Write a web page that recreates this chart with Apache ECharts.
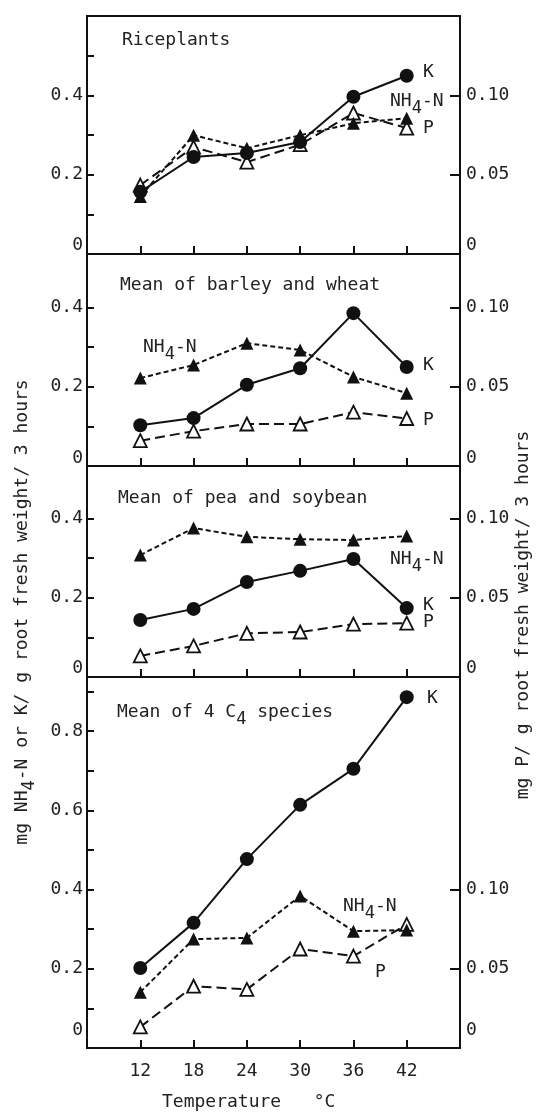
<!DOCTYPE html>
<html><head><meta charset="utf-8">
<script src="https://cdn.jsdelivr.net/npm/echarts@6/dist/echarts.min.js"></script>
<style>html,body{margin:0;padding:0;background:#fff}#c{width:537px;height:1112px}</style>
</head><body><div id="c"></div>
<script>
// ---------- data ----------
const temperatures = [12, 18, 24, 30, 36, 42];

const riceK   = [0.157, 0.245, 0.255, 0.283, 0.397, 0.450];
const riceNH4 = [0.145, 0.300, 0.267, 0.300, 0.330, 0.343];
const riceP   = [0.0435, 0.0675, 0.058, 0.069, 0.089, 0.0795];

const barleyK   = [0.103, 0.121, 0.205, 0.247, 0.386, 0.250];
const barleyNH4 = [0.222, 0.255, 0.310, 0.293, 0.225, 0.184];
const barleyP   = [0.016, 0.022, 0.0265, 0.0265, 0.034, 0.030];

const peaK   = [0.144, 0.172, 0.240, 0.268, 0.298, 0.174];
const peaNH4 = [0.308, 0.376, 0.354, 0.348, 0.346, 0.356];
const peaP   = [0.0133, 0.0196, 0.0276, 0.0284, 0.0334, 0.034];

const c4K   = [0.202, 0.316, 0.477, 0.614, 0.705, 0.886];
const c4NH4 = [0.141, 0.275, 0.278, 0.384, 0.295, 0.298];
const c4P   = [0.0133, 0.039, 0.037, 0.0625, 0.058, 0.078];

const leftTickValues  = [[0.1,0.2,0.3,0.4,0.5],[0.1,0.2,0.3,0.4],[0.1,0.2,0.3,0.4],[0.1,0.2,0.3,0.4,0.5,0.6,0.7,0.8,0.9]];
const leftLabelValues = [[0,0.2,0.4],[0,0.2,0.4],[0,0.2,0.4],[0,0.2,0.4,0.6,0.8]];
const rightTickValues  = [0.05, 0.10];
const rightLabelValues = [0, 0.05, 0.10];

const panelTitles = ['Riceplants', 'Mean of barley and wheat', 'Mean of pea and soybean', '{n|Mean of 4 C}{s|4}{n| species}'];
const leftTitle  = '{n|mg NH}{s|4}{n|-N or K/ g root fresh weight/ 3 hours}';
const rightTitle = 'mg P/ g root fresh weight/ 3 hours';
const xTitle = 'Temperature   °C';
const nh4Label = '{n|NH}{s|4}{n|-N}';

const panelData = [
  {K: riceK, NH4: riceNH4, P: riceP},
  {K: barleyK, NH4: barleyNH4, P: barleyP},
  {K: peaK, NH4: peaNH4, P: peaP},
  {K: c4K, NH4: c4NH4, P: c4P}
];

// ---------- layout ----------
const FONT = 'DejaVu Sans Mono';
const INK = '#111';
const TXT = '#222';
const PX_PER_UNIT = 396; // pixels per 1.0 on left axis
const gridTops = [16, 254, 466, 677];
const gridHeights = [238, 212, 211, 371];
const gridLeft = 87, gridRight = 77;
const zeroLift = [9, 8, 9, 18];
const titlePos = [[122, 40], [120, 285], [118, 498], [117, 712]];
const seriesLabels = [
  {K: [423, 72],  NH4: [390, 97],  P: [423, 128]},
  {K: [423, 365], NH4: [143, 343], P: [423, 420]},
  {K: [423, 605], NH4: [390, 555], P: [423, 622]},
  {K: [427, 698], NH4: [343, 902], P: [375, 972]}
];

const richText = {
  n: {fontFamily: FONT, fontSize: 18, color: TXT, fill: TXT, lineHeight: 22},
  s: {fontFamily: FONT, fontSize: 17, color: TXT, fill: TXT, lineHeight: 22, padding: [16, 0, 0, 0]}
};

const grids = [], xAxes = [], yAxes = [], series = [];
panelData.forEach((p, i) => {
  const leftMax = gridHeights[i] / PX_PER_UNIT;
  grids.push({left: gridLeft, right: gridRight, top: gridTops[i], height: gridHeights[i],
    show: true, borderColor: INK, borderWidth: 2, backgroundColor: 'transparent'});
  xAxes.push({gridIndex: i, type: 'value', min: 6, max: 48,
    axisLine: {show: false}, splitLine: {show: false},
    axisTick: {show: true, inside: true, length: 8, customValues: temperatures, lineStyle: {color: INK, width: 2}},
    axisLabel: {show: i === 3, customValues: temperatures, margin: 14, fontFamily: FONT, fontSize: 18, color: TXT}
  });
  const zr = {z: {fontFamily: FONT, fontSize: 18, color: TXT, padding: [0, 0, zeroLift[i] * 2, 0]}};
  yAxes.push({gridIndex: i, type: 'value', position: 'left', min: 0, max: leftMax,
    axisLine: {show: false}, splitLine: {show: false},
    axisTick: {show: true, inside: true, length: 7, customValues: leftTickValues[i], lineStyle: {color: INK, width: 2}},
    axisLabel: {customValues: leftLabelValues[i], margin: 4, fontFamily: FONT, fontSize: 18, color: TXT, rich: zr,
      formatter: v => v === 0 ? '{z|0}' : v.toFixed(1)}
  });
  yAxes.push({gridIndex: i, type: 'value', position: 'right', min: 0, max: leftMax / 4,
    axisLine: {show: false}, splitLine: {show: false},
    axisTick: {show: true, inside: true, length: 10, customValues: rightTickValues, lineStyle: {color: INK, width: 2}},
    axisLabel: {customValues: rightLabelValues, margin: 6, fontFamily: FONT, fontSize: 18, color: TXT, rich: zr,
      formatter: v => v === 0 ? '{z|0}' : v.toFixed(2)}
  });
  const pts = arr => temperatures.map((t, j) => [t, arr[j]]);
  series.push({type: 'line', xAxisIndex: i, yAxisIndex: 2 * i + 1, data: pts(p.P), symbol: 'triangle', symbolSize: 13,
    itemStyle: {color: '#fff', borderColor: INK, borderWidth: 1.8}, lineStyle: {color: INK, width: 2, type: [10, 5]}, z: 2});
  series.push({type: 'line', xAxisIndex: i, yAxisIndex: 2 * i, data: pts(p.NH4), symbol: 'triangle', symbolSize: 13,
    itemStyle: {color: INK, borderColor: INK, borderWidth: 0}, lineStyle: {color: INK, width: 2, type: [5, 3]}, z: 3});
  series.push({type: 'line', xAxisIndex: i, yAxisIndex: 2 * i, data: pts(p.K), symbol: 'circle', symbolSize: 14,
    itemStyle: {color: INK, borderColor: INK, borderWidth: 0}, lineStyle: {color: INK, width: 2, type: 'solid'}, z: 4});
});

const graphics = [];
const txt = (text, x, y, extra) => Object.assign({type: 'text', x: x, y: y, z: 100, silent: true,
  style: {text: text, fontFamily: FONT, fontSize: 18, fill: TXT, align: 'left', verticalAlign: 'middle', rich: richText}}, extra || {});
panelTitles.forEach((t, i) => graphics.push(txt(t, titlePos[i][0], titlePos[i][1])));
seriesLabels.forEach(l => {
  graphics.push(txt('K', l.K[0], l.K[1]));
  graphics.push(txt('P', l.P[0], l.P[1]));
  graphics.push(txt(nh4Label, l.NH4[0], l.NH4[1] + 4));
});
const left = txt(leftTitle, 22, 612, {rotation: Math.PI / 2});
left.style.align = 'center';
graphics.push(left);
const right = txt(rightTitle, 523, 615, {rotation: Math.PI / 2});
right.style.align = 'center';
graphics.push(right);
graphics.push(txt(xTitle, 162, 1102));

const chart = echarts.init(document.getElementById('c'), null, {renderer: 'canvas'});
chart.setOption({
  animation: false,
  backgroundColor: '#fff',
  grid: grids, xAxis: xAxes, yAxis: yAxes, series: series, graphic: graphics
});
</script></body></html>
